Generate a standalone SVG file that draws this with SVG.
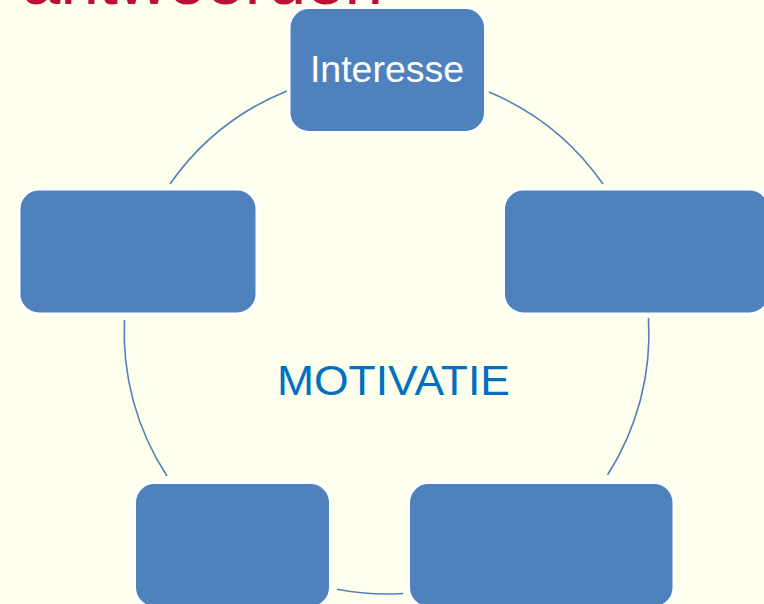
<svg xmlns="http://www.w3.org/2000/svg" width="764" height="604" viewBox="0 0 764 604">
  <style>
    .box { fill: #4F81BD; stroke: #FFFFFF; stroke-width: 3; }
    .arc { fill: none; stroke: #4F81BD; stroke-width: 1.6; }
    .lbl { font-family: "Liberation Sans", Arial, sans-serif; fill: #FFFFFF; text-anchor: middle; }
  </style>
  <rect x="0" y="0" width="764" height="604" fill="#FFFFEE"/>
  <text id="title" x="22" y="4" font-family="Liberation Sans, Arial, sans-serif" font-size="69" fill="#BE0F34" textLength="361" lengthAdjust="spacingAndGlyphs">antwoorden</text>
  <g id="connectors">
    <path class="arc" d="M489,92 A262,262 0 0 1 603,184"/>
    <path class="arc" d="M648.5,318 A262,262 0 0 1 607.5,475"/>
    <path class="arc" d="M403,593.5 A262,262 0 0 1 337,589.3"/>
    <path class="arc" d="M167,476 A262,262 0 0 1 124.5,320"/>
    <path class="arc" d="M170,184 A262,262 0 0 1 287,91"/>
  </g>
  <g id="node-interesse">
    <rect class="box" x="289" y="7.5" width="196.5" height="125" rx="20"/>
    <text class="lbl" x="387" y="82" font-size="37.5">Interesse</text>
  </g>
  <g id="node-right">
    <rect class="box" x="503.5" y="189" width="266" height="125" rx="20"/>
  </g>
  <g id="node-bottom-right">
    <rect class="box" x="408.5" y="482.5" width="265.5" height="125" rx="20"/>
  </g>
  <g id="node-bottom-left">
    <rect class="box" x="134.5" y="482.5" width="196" height="125" rx="20"/>
  </g>
  <g id="node-left">
    <rect class="box" x="19" y="189" width="238" height="125" rx="20"/>
  </g>
  <g id="center">
    <text x="277" y="395" font-family="Liberation Sans, Arial, sans-serif" font-size="43" fill="#0070C0" textLength="233" lengthAdjust="spacingAndGlyphs">MOTIVATIE</text>
  </g>
</svg>
